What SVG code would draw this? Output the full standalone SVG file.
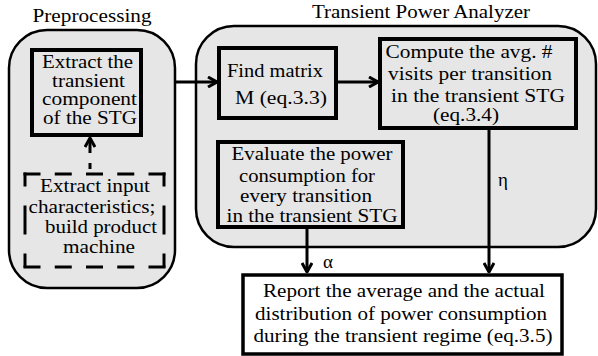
<svg xmlns="http://www.w3.org/2000/svg" width="598" height="356" viewBox="0 0 598 356">
<defs>
<style>
text{font-family:"Liberation Serif","Times New Roman",serif;font-size:19px;fill:#000;text-anchor:middle}
.sm{font-size:18px}
.cont{fill:#e6e6e6;stroke:#000;stroke-width:2.5}
.box{fill:#e6e6e6;stroke:#000;stroke-width:4}
.wbox{fill:#fff;stroke:#000;stroke-width:3.5}
.dh{fill:none;stroke:#000;stroke-width:3;stroke-dasharray:14,17.25;stroke-linecap:square}
.dv{fill:none;stroke:#000;stroke-width:3;stroke-dasharray:11,22,26,22,11,100;stroke-linecap:square}
.conn{fill:none;stroke:#000;stroke-width:3}
</style>
<marker id="ah" viewBox="0 0 12 12" refX="11" refY="6" markerWidth="12" markerHeight="12" markerUnits="userSpaceOnUse" orient="auto">
<polyline points="2,1 11,6 2,11" fill="none" stroke="#000" stroke-width="3"/>
</marker>
</defs>
<g id="preprocessing">
<rect class="cont" x="9" y="30" width="166" height="258" rx="38" ry="38"/>
<text x="92" y="22" textLength="119" lengthAdjust="spacingAndGlyphs">Preprocessing</text>
</g>
<g id="analyzer">
<rect class="cont" x="196" y="26" width="400" height="221" rx="38" ry="38"/>
<text x="421" y="18" textLength="218" lengthAdjust="spacingAndGlyphs">Transient Power Analyzer</text>
</g>
<g id="extract-transient">
<rect class="box" x="32" y="50" width="109" height="85"/>
<text class="sm" x="87.5" y="68" textLength="91" lengthAdjust="spacingAndGlyphs">Extract the</text>
<text class="sm" x="88.5" y="86.5" textLength="73" lengthAdjust="spacingAndGlyphs">transient</text>
<text class="sm" x="89.5" y="105" textLength="95" lengthAdjust="spacingAndGlyphs">component</text>
<text class="sm" x="90" y="124" textLength="94" lengthAdjust="spacingAndGlyphs">of the STG</text>
</g>
<g id="extract-input">
<path class="dh" d="M25,174 H164 M25,267 H164"/>
<path class="dv" d="M25,174 V267 M164,174 V267"/>
<text x="95" y="192" textLength="110" lengthAdjust="spacingAndGlyphs">Extract input</text>
<text x="92" y="213" textLength="127" lengthAdjust="spacingAndGlyphs">characteristics;</text>
<text x="101" y="233" textLength="112" lengthAdjust="spacingAndGlyphs">build product</text>
<text x="99" y="253" textLength="72" lengthAdjust="spacingAndGlyphs">machine</text>
</g>
<g id="find-matrix">
<rect class="box" x="219" y="48" width="117" height="70"/>
<text x="275" y="77" textLength="96" lengthAdjust="spacingAndGlyphs">Find matrix</text>
<text x="281" y="104" textLength="92" lengthAdjust="spacingAndGlyphs">M  (eq.3.3)</text>
</g>
<g id="compute">
<rect class="box" x="380" y="39" width="196" height="89"/>
<text x="469" y="58" textLength="167" lengthAdjust="spacingAndGlyphs">Compute the avg. #</text>
<text x="470" y="80" textLength="164" lengthAdjust="spacingAndGlyphs">visits per transition</text>
<text x="478" y="102" textLength="174" lengthAdjust="spacingAndGlyphs">in the transient STG</text>
<text x="466" y="121" textLength="66" lengthAdjust="spacingAndGlyphs">(eq.3.4)</text>
</g>
<g id="evaluate">
<rect class="box" x="218" y="142" width="185" height="85"/>
<text x="312" y="160" textLength="161" lengthAdjust="spacingAndGlyphs">Evaluate the power</text>
<text x="307" y="182" textLength="136" lengthAdjust="spacingAndGlyphs">consumption for</text>
<text x="306" y="202" textLength="132" lengthAdjust="spacingAndGlyphs">every transition</text>
<text x="312" y="222" textLength="171" lengthAdjust="spacingAndGlyphs">in the transient STG</text>
</g>
<g id="report">
<rect class="wbox" x="243" y="275" width="319" height="79"/>
<text x="404" y="297" textLength="282" lengthAdjust="spacingAndGlyphs">Report the average and the actual</text>
<text x="401" y="320" textLength="292" lengthAdjust="spacingAndGlyphs">distribution of power consumption</text>
<text x="403" y="342" textLength="299" lengthAdjust="spacingAndGlyphs">during the transient regime (eq.3.5)</text>
</g>
<g id="connectors">
<line class="conn" x1="90" y1="153" x2="90" y2="138" marker-end="url(#ah)"/>
<line class="conn" x1="90" y1="163" x2="90" y2="169"/>
<line class="conn" x1="175" y1="82" x2="217" y2="82" marker-end="url(#ah)"/>
<line class="conn" x1="336" y1="82" x2="378" y2="82" marker-end="url(#ah)"/>
<line class="conn" x1="307" y1="227" x2="307" y2="272" marker-end="url(#ah)"/>
<line class="conn" x1="489" y1="128" x2="489" y2="272" marker-end="url(#ah)"/>
<text x="323" y="268" style="text-anchor:start">α</text>
<text x="498" y="186" style="text-anchor:start">η</text>
</g>
</svg>
